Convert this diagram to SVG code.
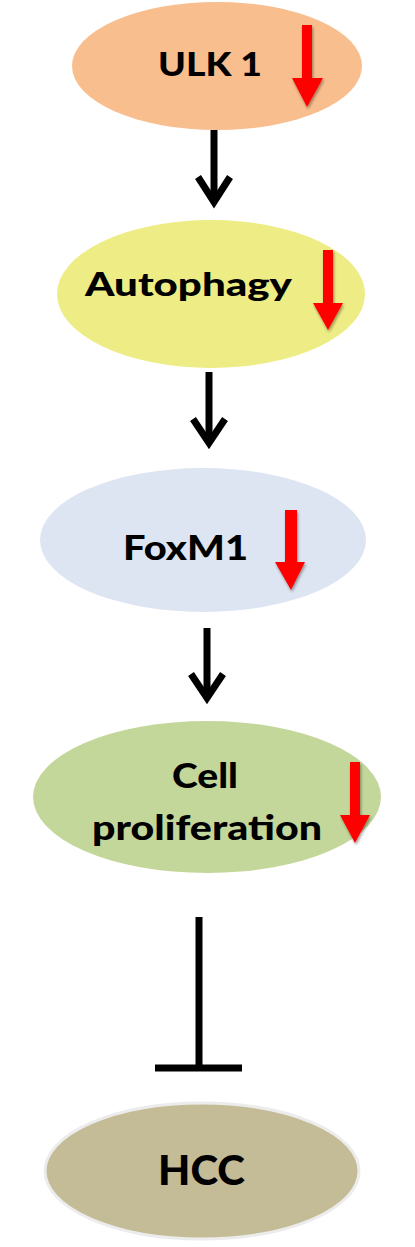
<svg xmlns="http://www.w3.org/2000/svg" width="415" height="1247" viewBox="0 0 415 1247">
<defs>
<style>
.lbl{font-family:Lato,"Open Sans","Liberation Sans",sans-serif;font-weight:900;fill:#000;text-anchor:middle;}
.red{fill:#FF0000;}
.con{stroke:#000;stroke-width:7;fill:none;}
</style>
<filter id="sh" x="-30%" y="-10%" width="160%" height="130%">
<feGaussianBlur in="SourceAlpha" stdDeviation="1.5"/>
<feOffset dx="1" dy="2" result="b"/>
<feComponentTransfer><feFuncA type="linear" slope="0.4"/></feComponentTransfer>
<feMerge><feMergeNode/><feMergeNode in="SourceGraphic"/></feMerge>
</filter>
</defs>
<rect width="415" height="1247" fill="#fff"/>
<g id="ulk1">
<ellipse cx="217" cy="66" rx="145" ry="64" fill="#F8BE8E"/>
<text class="lbl" x="210" y="76" font-size="32" textLength="104" lengthAdjust="spacingAndGlyphs">ULK 1</text>
<polygon class="red" filter="url(#sh)" points="302,25 312,25 312,78 323,78 307,107 292,78 302,78"/>
</g>
<g id="autophagy">
<ellipse cx="211" cy="294" rx="154" ry="74" fill="#EEEC84"/>
<text class="lbl" x="188.5" y="296" font-size="32" textLength="207" lengthAdjust="spacingAndGlyphs">Autophagy</text>
<polygon class="red" filter="url(#sh)" points="323,250 333,250 333,303 343,303 328,330 313,303 323,303"/>
</g>
<g id="foxm1">
<ellipse cx="203" cy="540" rx="163" ry="72" fill="#DCE5F1"/>
<text class="lbl" x="185.5" y="560" font-size="34" textLength="125" lengthAdjust="spacingAndGlyphs">FoxM1</text>
<polygon class="red" filter="url(#sh)" points="285,510 297,510 297,562 305,562 291,590 275,562 285,562"/>
</g>
<g id="cell-proliferation">
<ellipse cx="207" cy="797" rx="174" ry="76" fill="#C4D79B"/>
<text class="lbl" x="205" y="788" font-size="34" textLength="66" lengthAdjust="spacingAndGlyphs">Cell</text>
<text class="lbl" x="207" y="840" font-size="34" textLength="230" lengthAdjust="spacingAndGlyphs">proliferation</text>
<polygon class="red" filter="url(#sh)" points="350,762 360,762 360,815 370,815 355,843 340,815 350,815"/>
</g>
<g id="hcc">
<ellipse cx="202" cy="1171" rx="157" ry="68" fill="#C4BC96" stroke="#ECECEC" stroke-width="3"/>
<text class="lbl" x="201.5" y="1185" font-size="41" textLength="87" lengthAdjust="spacingAndGlyphs">HCC</text>
</g>
<g id="connectors">
<line class="con" x1="214" y1="130" x2="214" y2="202"/>
<polyline class="con" points="198,177 214,202 230,177"/>
<line class="con" x1="209" y1="372" x2="209" y2="443"/>
<polyline class="con" points="193,419 209,443 225,419"/>
<line class="con" x1="207" y1="628" x2="207" y2="698"/>
<polyline class="con" points="191,674 207,698 223,674"/>
<line class="con" x1="199" y1="917" x2="199" y2="1068"/>
<line class="con" x1="155" y1="1068" x2="242" y2="1068"/>
</g>
</svg>
